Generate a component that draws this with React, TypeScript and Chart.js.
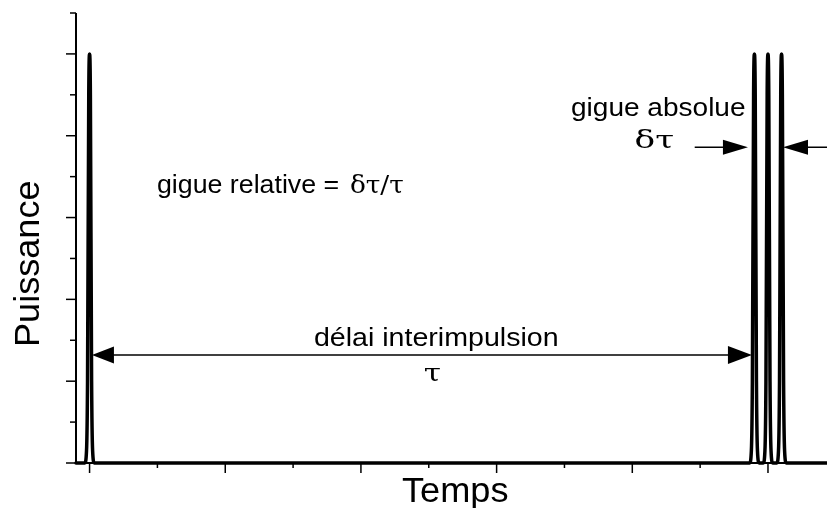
import React, { useEffect, useRef } from "react";
import { Chart, registerables } from "chart.js";

Chart.register(...registerables);

// ---- data ----
const pulseCenters = [0, 9.8, 10, 10.2];
const pulseOffsets = [-0.07, -0.045, -0.03, -0.012, 0, 0.012, 0.03, 0.045, 0.07];
const pulseHeights = [0, 0.15, 1.0, 4.5, 5, 4.5, 1.0, 0.15, 0];

const X_MIN = -0.2;
const X_MAX = 10.87;
const Y_MIN = 0;
const Y_MAX = 5.5;

const xMajorTicks = [0, 2, 4, 6, 8, 10];
const xMinorTicks = [1, 3, 5, 7, 9];
const yMajorTicks = [0, 1, 2, 3, 4, 5];
const yMinorTicks = [0.5, 1.5, 2.5, 3.5, 4.5, 5.5];

const xTitle = "Temps";
const yTitle = "Puissance";
const relLabel = "gigue relative =";
const relGreek = "δτ/τ";
const absLabel = "gigue absolue";
const absGreek = "δτ";
const delayLabel = "délai interimpulsion";
const delayGreek = "τ";

// arrows (data units)
const delayArrow = { left: 0.035, right: 9.764, y: 1.32 };
const jitterArrowY = 3.86;
const jitterLeft = { from: 8.92, tip: 9.705 };
const jitterRight = { from: 11.2, tip: 10.221 };

function buildPoints() {
  const pts: { x: number; y: number }[] = [{ x: X_MIN, y: 0 }];
  pulseCenters.forEach((c) => {
    pulseOffsets.forEach((o, i) => pts.push({ x: c + o, y: pulseHeights[i] }));
  });
  pts.push({ x: X_MAX, y: 0 });
  return pts;
}

const SANS = '"Liberation Sans", Arial, Helvetica, sans-serif';
const SERIF = '"DejaVu Serif", "Liberation Serif", serif';

function arrowHead(ctx: CanvasRenderingContext2D, tipX: number, y: number, dir: number, len: number, half: number) {
  ctx.beginPath();
  ctx.moveTo(tipX, y);
  ctx.lineTo(tipX - dir * len, y - half);
  ctx.lineTo(tipX - dir * len, y + half);
  ctx.closePath();
  ctx.fill();
}

// draws text so that its ink starts at xLeft and spans `width` pixels
function drawFitted(
  ctx: CanvasRenderingContext2D,
  text: string,
  font: string,
  xLeft: number,
  yBase: number,
  width: number,
  rotate = 0
) {
  ctx.save();
  ctx.font = font;
  ctx.textAlign = "left";
  ctx.textBaseline = "alphabetic";
  const m = ctx.measureText(text);
  const ink = m.actualBoundingBoxRight + m.actualBoundingBoxLeft;
  const s = ink > 0 ? width / ink : 1;
  ctx.translate(xLeft, yBase);
  if (rotate) ctx.rotate(rotate);
  ctx.scale(s, 1);
  ctx.fillText(text, m.actualBoundingBoxLeft, 0);
  ctx.restore();
}

const annotPlugin = {
  id: "annot",
  afterDatasetsDraw(chart: any) {
    const { ctx, chartArea } = chart;
    const xs = chart.scales.x;
    const ys = chart.scales.y;
    const px = (v: number) => xs.getPixelForValue(v);
    const py = (v: number) => ys.getPixelForValue(v);
    ctx.save();
    ctx.strokeStyle = "#000";
    ctx.fillStyle = "#000";

    // axes
    ctx.lineWidth = 2;
    ctx.beginPath();
    ctx.moveTo(px(X_MIN), py(Y_MAX));
    ctx.lineTo(px(X_MIN), py(0));
    ctx.lineTo(px(X_MAX), py(0));
    ctx.stroke();

    // ticks
    ctx.lineWidth = 1.5;
    const x0 = px(X_MIN);
    const y0 = py(0);
    yMajorTicks.forEach((t) => {
      ctx.beginPath();
      ctx.moveTo(x0 - 10, py(t));
      ctx.lineTo(x0, py(t));
      ctx.stroke();
    });
    yMinorTicks.forEach((t) => {
      ctx.beginPath();
      ctx.moveTo(x0 - 6, py(t));
      ctx.lineTo(x0, py(t));
      ctx.stroke();
    });
    xMajorTicks.forEach((t) => {
      ctx.beginPath();
      ctx.moveTo(px(t), y0);
      ctx.lineTo(px(t), y0 + 10);
      ctx.stroke();
    });
    xMinorTicks.forEach((t) => {
      ctx.beginPath();
      ctx.moveTo(px(t), y0);
      ctx.lineTo(px(t), y0 + 5);
      ctx.stroke();
    });

    // axis titles
    drawFitted(ctx, xTitle, `35px ${SANS}`, px(4.605), chartArea.bottom + 39, 106);
    drawFitted(ctx, yTitle, `35px ${SANS}`, chartArea.left - 37, py(1.443), 163, -Math.PI / 2);

    // delay arrow
    ctx.lineWidth = 1.5;
    const ay = py(delayArrow.y);
    ctx.beginPath();
    ctx.moveTo(px(delayArrow.left) + 10, ay);
    ctx.lineTo(px(delayArrow.right) - 10, ay);
    ctx.stroke();
    arrowHead(ctx, px(delayArrow.left), ay, -1, 22, 8.5);
    arrowHead(ctx, px(delayArrow.right), ay, 1, 24, 9);

    // jitter arrows
    const jy = py(jitterArrowY);
    ctx.beginPath();
    ctx.moveTo(px(jitterLeft.from), jy);
    ctx.lineTo(px(jitterLeft.tip) - 10, jy);
    ctx.stroke();
    arrowHead(ctx, px(jitterLeft.tip), jy, 1, 25, 7.5);
    ctx.beginPath();
    ctx.moveTo(px(jitterRight.from), jy);
    ctx.lineTo(px(jitterRight.tip) + 10, jy);
    ctx.stroke();
    arrowHead(ctx, px(jitterRight.tip), jy, -1, 25, 7.5);

    // labels
    drawFitted(ctx, relLabel, `26px ${SANS}`, px(1.008), py(3.3), 180);
    drawFitted(ctx, relGreek, `25px ${SERIF}`, px(3.853), py(3.3), 52);
    drawFitted(ctx, absLabel, `26px ${SANS}`, px(7.112), py(4.242), 173);
    drawFitted(ctx, absGreek, `25px ${SERIF}`, px(8.054), py(3.851), 37);
    drawFitted(ctx, delayLabel, `26px ${SANS}`, px(3.323), py(1.43), 242);
    drawFitted(ctx, delayGreek, `25px ${SERIF}`, px(4.943), py(1.002), 15);

    ctx.restore();
  },
};

export default function App() {
  const ref = useRef<HTMLCanvasElement>(null);
  useEffect(() => {
    if (!ref.current) return;
    const chart = new Chart(ref.current, {
      type: "line",
      data: {
        datasets: [
          {
            data: buildPoints(),
            borderColor: "#000",
            borderWidth: 3.5,
            borderJoinStyle: "round",
            borderCapStyle: "round",
            cubicInterpolationMode: "monotone",
            pointRadius: 0,
            fill: false,
            clip: false as any,
          },
        ],
      },
      options: {
        animation: false,
        responsive: true,
        maintainAspectRatio: false,
        layout: { padding: { left: 76, top: 13, right: 0, bottom: 45 } },
        plugins: { legend: { display: false }, tooltip: { enabled: false }, title: { display: false } },
        scales: {
          x: { type: "linear", min: X_MIN, max: X_MAX, display: false },
          y: { type: "linear", min: Y_MIN, max: Y_MAX, display: false },
        },
      },
      plugins: [annotPlugin],
    });
    return () => chart.destroy();
  }, []);
  return (
    <div style={{ position: "fixed", left: 0, top: 0, width: 827, height: 508, background: "#fff" }}>
      <canvas ref={ref} />
    </div>
  );
}
